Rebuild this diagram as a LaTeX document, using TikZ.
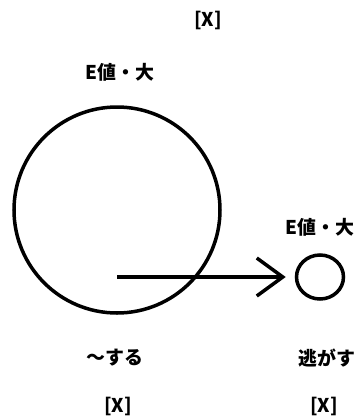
\documentclass[tikz,border=0pt]{standalone}
\usepackage{fontspec}
\newfontfamily\jp{Noto Sans CJK JP}
\usetikzlibrary{arrows.meta,shapes.geometric}
\begin{document}
\begin{tikzpicture}[x=1bp,y=-1bp,
  lbl/.style={font=\jp\bfseries\fontsize{19}{22}\selectfont, inner sep=0pt},
  ring/.style={draw, line width=3.5bp, inner sep=0pt},
  conn/.style={line width=3.5bp, shorten >=9bp, -{Straight Barb[length=26bp,width=38bp,line width=3.5bp]}}]
\useasboundingbox (0,0) rectangle (360,419);
\node[ring, circle, minimum size=206bp] (big) at (117,210) {};
\node[ring, ellipse, minimum width=47bp, minimum height=44bp] (small) at (320,277) {};
\coordinate (start) at (117,277);
\draw[conn] (start) -- (small.west);
\node[lbl] (x1) at (208,20) {[X]};
\node[lbl] (e1) at (120,72) {E値・大};
\node[lbl] (e2) at (320,227) {E値・大};
\node[lbl] (s1) at (115,358) {～する};
\node[lbl] (s2) at (327,358) {逃がす};
\node[lbl] (x2) at (118,406) {[X]};
\node[lbl] (x3) at (324,406) {[X]};
\end{tikzpicture}
\end{document}
